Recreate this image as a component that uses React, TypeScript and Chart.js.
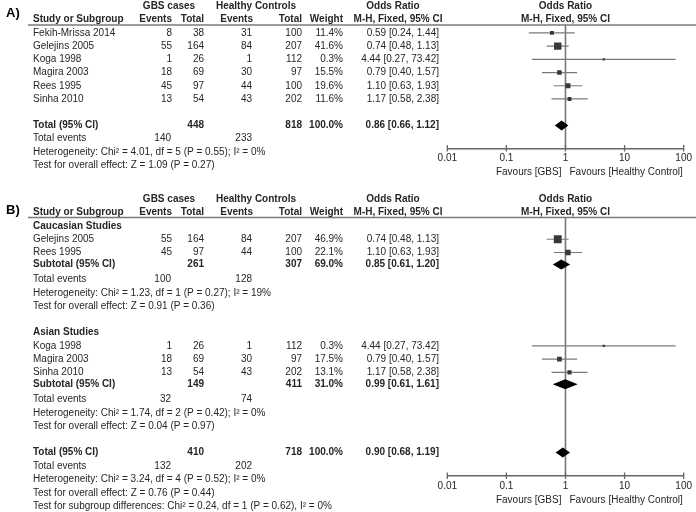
import React, { useEffect, useRef } from 'react';
import { Chart, registerables } from 'chart.js';

Chart.register(...registerables);

// ---------------- Shared labels ----------------
const TICK_VALUES = [0.01, 0.1, 1, 10, 100];
const TICK_LABELS = ['0.01', '0.1', '1', '10', '100'];
const NULL_VALUE = 1;
const FAVOURS_LEFT = 'Favours [GBS]';
const FAVOURS_RIGHT = 'Favours [Healthy Control]';
const HEADER_TOP = ['GBS cases', 'Healthy Controls', 'Odds Ratio', 'Odds Ratio'];
const HEADER_SUB = ['Study or Subgroup', 'Events', 'Total', 'Events', 'Total', 'Weight', 'M-H, Fixed, 95% CI', 'M-H, Fixed, 95% CI'];

// ---------------- Panel A data ----------------
const STUDIES_A = ['Fekih-Mrissa 2014', 'Gelejins 2005', 'Koga 1998', 'Magira 2003', 'Rees 1995', 'Sinha 2010'];
const GBS_EVENTS_A = [8, 55, 1, 18, 45, 13];
const GBS_TOTAL_A = [38, 164, 26, 69, 97, 54];
const HC_EVENTS_A = [31, 84, 1, 30, 44, 43];
const HC_TOTAL_A = [100, 207, 112, 97, 100, 202];
const WEIGHT_A = [11.4, 41.6, 0.3, 15.5, 19.6, 11.6];
const OR_A = [0.59, 0.74, 4.44, 0.79, 1.10, 1.17];
const OR_LOW_A = [0.24, 0.48, 0.27, 0.40, 0.63, 0.58];
const OR_HIGH_A = [1.44, 1.13, 73.42, 1.57, 1.93, 2.38];
const TOTAL_COUNTS_A = [448, 818]; // GBS total, HC total
const TOTAL_WEIGHT_A = 100.0;
const TOTAL_OR_A = [0.86, 0.66, 1.12]; // OR, low, high
const TOTAL_EVENTS_A = [140, 233];
const HET_A = 'Heterogeneity: Chi\u00B2 = 4.01, df = 5 (P = 0.55); I\u00B2 = 0%';
const TEST_A = 'Test for overall effect: Z = 1.09 (P = 0.27)';

// ---------------- Panel B data ----------------
const GROUPS_B = ['Caucasian Studies', 'Asian Studies'];
const STUDIES_B = [['Gelejins 2005', 'Rees 1995'], ['Koga 1998', 'Magira 2003', 'Sinha 2010']];
const GBS_EVENTS_B = [[55, 45], [1, 18, 13]];
const GBS_TOTAL_B = [[164, 97], [26, 69, 54]];
const HC_EVENTS_B = [[84, 44], [1, 30, 43]];
const HC_TOTAL_B = [[207, 100], [112, 97, 202]];
const WEIGHT_B = [[46.9, 22.1], [0.3, 17.5, 13.1]];
const OR_B = [[0.74, 1.10], [4.44, 0.79, 1.17]];
const OR_LOW_B = [[0.48, 0.63], [0.27, 0.40, 0.58]];
const OR_HIGH_B = [[1.13, 1.93], [73.42, 1.57, 2.38]];
const SUB_GBS_TOTAL_B = [261, 149];
const SUB_HC_TOTAL_B = [307, 411];
const SUB_WEIGHT_B = [69.0, 31.0];
const SUB_OR_B = [0.85, 0.99];
const SUB_LOW_B = [0.61, 0.61];
const SUB_HIGH_B = [1.20, 1.61];
const SUB_GBS_EVENTS_B = [100, 32];
const SUB_HC_EVENTS_B = [128, 74];
const SUB_HET_B = [
  'Heterogeneity: Chi\u00B2 = 1.23, df = 1 (P = 0.27); I\u00B2 = 19%',
  'Heterogeneity: Chi\u00B2 = 1.74, df = 2 (P = 0.42); I\u00B2 = 0%',
];
const SUB_TEST_B = ['Test for overall effect: Z = 0.91 (P = 0.36)', 'Test for overall effect: Z = 0.04 (P = 0.97)'];
const TOTAL_COUNTS_B = [410, 718];
const TOTAL_WEIGHT_B = 100.0;
const TOTAL_OR_B = [0.90, 0.68, 1.19];
const TOTAL_EVENTS_B = [132, 202];
const HET_B = 'Heterogeneity: Chi\u00B2 = 3.24, df = 4 (P = 0.52); I\u00B2 = 0%';
const TEST_B = 'Test for overall effect: Z = 0.76 (P = 0.44)';
const SUBGROUP_TEST_B = 'Test for subgroup differences: Chi\u00B2 = 0.24, df = 1 (P = 0.62), I\u00B2 = 0%';

// ---------------- Layout / style ----------------
const W = 696;
const FONT = '"Liberation Sans", Arial, Helvetica, sans-serif';
const TEXT_COLOR = '#262626';
const LINE_COLOR = '#7a7a7a';
const COL = { name: 33, gbsEv: 172, gbsTot: 204, hcEv: 252, hcTot: 302, weight: 343, ci: 439, totEvG: 171 };
const HX = { gbs: 169, hc: 256, orTop: 393, orSub: 398 };
const PLOT_LEFT = 447.3;
const PLOT_RIGHT_PAD = 10.3;
const AXIS_H = 30;
const DIAMOND_HALF = 5;

type Cell = { text: string; x?: number; xv?: number; align: CanvasTextAlign; bold?: boolean; size?: number };
type TextRow = { row: number; cells: Cell[] };
type Mark = { row: number; or: number; lo: number; hi: number; weight?: number };
type Panel = {
  id: string; label: string; labelRow: number; rows: TextRow[]; studies: Mark[]; diamonds: Mark[];
  yMin: number; yMax: number; height: number; top: number; padTop: number; padBottom: number;
};

const fmtCI = (or: number, lo: number, hi: number) => `${or.toFixed(2)} [${lo.toFixed(2)}, ${hi.toFixed(2)}]`;
const fmtW = (w: number) => `${w.toFixed(1)}%`;

function headerRows(r1: number, r2: number): TextRow[] {
  return [
    { row: r1, cells: [
      { text: HEADER_TOP[0], x: HX.gbs, align: 'center', bold: true },
      { text: HEADER_TOP[1], x: HX.hc, align: 'center', bold: true },
      { text: HEADER_TOP[2], x: HX.orTop, align: 'center', bold: true },
      { text: HEADER_TOP[3], xv: NULL_VALUE, align: 'center', bold: true },
    ] },
    { row: r2, cells: [
      { text: HEADER_SUB[0], x: COL.name, align: 'left', bold: true },
      { text: HEADER_SUB[1], x: COL.gbsEv, align: 'right', bold: true },
      { text: HEADER_SUB[2], x: COL.gbsTot, align: 'right', bold: true },
      { text: HEADER_SUB[3], x: COL.hcEv + 1, align: 'right', bold: true },
      { text: HEADER_SUB[4], x: COL.hcTot, align: 'right', bold: true },
      { text: HEADER_SUB[5], x: COL.weight, align: 'right', bold: true },
      { text: HEADER_SUB[6], x: HX.orSub, align: 'center', bold: true },
      { text: HEADER_SUB[7], xv: NULL_VALUE, align: 'center', bold: true },
    ] },
  ];
}

function studyRow(row: number, name: string, ge: number, gt: number, he: number, ht: number, w: number, or: number, lo: number, hi: number): TextRow {
  return { row, cells: [
    { text: name, x: COL.name, align: 'left' },
    { text: String(ge), x: COL.gbsEv, align: 'right' },
    { text: String(gt), x: COL.gbsTot, align: 'right' },
    { text: String(he), x: COL.hcEv, align: 'right' },
    { text: String(ht), x: COL.hcTot, align: 'right' },
    { text: fmtW(w), x: COL.weight, align: 'right' },
    { text: fmtCI(or, lo, hi), x: COL.ci, align: 'right' },
  ] };
}

function totalRow(row: number, name: string, gt: number, ht: number, w: number, or: number, lo: number, hi: number): TextRow {
  return { row, cells: [
    { text: name, x: COL.name, align: 'left', bold: true },
    { text: String(gt), x: COL.gbsTot, align: 'right', bold: true },
    { text: String(ht), x: COL.hcTot, align: 'right', bold: true },
    { text: fmtW(w), x: COL.weight, align: 'right', bold: true },
    { text: fmtCI(or, lo, hi), x: COL.ci, align: 'right', bold: true },
  ] };
}

function eventsRow(row: number, ge: number, he: number): TextRow {
  return { row, cells: [
    { text: 'Total events', x: COL.name, align: 'left' },
    { text: String(ge), x: COL.totEvG, align: 'right' },
    { text: String(he), x: COL.hcEv, align: 'right' },
  ] };
}

const noteRow = (row: number, text: string, bold = false): TextRow => ({ row, cells: [{ text, x: COL.name, align: 'left', bold }] });

function buildPanelA(): Panel {
  const rows: TextRow[] = headerRows(-2.05, -1.06);
  const studies: Mark[] = [];
  STUDIES_A.forEach((name, i) => {
    rows.push(studyRow(i, name, GBS_EVENTS_A[i], GBS_TOTAL_A[i], HC_EVENTS_A[i], HC_TOTAL_A[i], WEIGHT_A[i], OR_A[i], OR_LOW_A[i], OR_HIGH_A[i]));
    studies.push({ row: i, or: OR_A[i], lo: OR_LOW_A[i], hi: OR_HIGH_A[i], weight: WEIGHT_A[i] });
  });
  const t = STUDIES_A.length + 1;
  rows.push(totalRow(t, 'Total (95% CI)', TOTAL_COUNTS_A[0], TOTAL_COUNTS_A[1], TOTAL_WEIGHT_A, TOTAL_OR_A[0], TOTAL_OR_A[1], TOTAL_OR_A[2]));
  rows.push(eventsRow(t + 1, TOTAL_EVENTS_A[0], TOTAL_EVENTS_A[1]));
  rows.push(noteRow(t + 2, HET_A));
  rows.push(noteRow(t + 3, TEST_A));
  return {
    id: 'A', label: 'A)', labelRow: -1.5, rows, studies,
    diamonds: [{ row: t, or: TOTAL_OR_A[0], lo: TOTAL_OR_A[1], hi: TOTAL_OR_A[2] }],
    yMin: -0.6, yMax: 8.75, height: 182, top: 0, padTop: 25, padBottom: 182 - 148.5 - AXIS_H,
  };
}

function buildPanelB(): Panel {
  const rows: TextRow[] = headerRows(-2.04, -1.06);
  const studies: Mark[] = [];
  const diamonds: Mark[] = [];
  let start = 0;
  GROUPS_B.forEach((g, gi) => {
    rows.push(noteRow(start, g, true));
    STUDIES_B[gi].forEach((name, i) => {
      const r = start + 1 + i;
      rows.push(studyRow(r, name, GBS_EVENTS_B[gi][i], GBS_TOTAL_B[gi][i], HC_EVENTS_B[gi][i], HC_TOTAL_B[gi][i], WEIGHT_B[gi][i], OR_B[gi][i], OR_LOW_B[gi][i], OR_HIGH_B[gi][i]));
      studies.push({ row: r, or: OR_B[gi][i], lo: OR_LOW_B[gi][i], hi: OR_HIGH_B[gi][i], weight: WEIGHT_B[gi][i] });
    });
    const sub = start + STUDIES_B[gi].length + 0.9;
    rows.push(totalRow(sub, 'Subtotal (95% CI)', SUB_GBS_TOTAL_B[gi], SUB_HC_TOTAL_B[gi], SUB_WEIGHT_B[gi], SUB_OR_B[gi], SUB_LOW_B[gi], SUB_HIGH_B[gi]));
    diamonds.push({ row: sub, or: SUB_OR_B[gi], lo: SUB_LOW_B[gi], hi: SUB_HIGH_B[gi] });
    rows.push(eventsRow(sub + 1.15, SUB_GBS_EVENTS_B[gi], SUB_HC_EVENTS_B[gi]));
    rows.push(noteRow(sub + 2.15, SUB_HET_B[gi]));
    rows.push(noteRow(sub + 3.15, SUB_TEST_B[gi]));
    start = sub + 5.15;
  });
  const t = start;
  rows.push(totalRow(t, 'Total (95% CI)', TOTAL_COUNTS_B[0], TOTAL_COUNTS_B[1], TOTAL_WEIGHT_B, TOTAL_OR_B[0], TOTAL_OR_B[1], TOTAL_OR_B[2]));
  diamonds.push({ row: t, or: TOTAL_OR_B[0], lo: TOTAL_OR_B[1], hi: TOTAL_OR_B[2] });
  rows.push(eventsRow(t + 1.05, TOTAL_EVENTS_B[0], TOTAL_EVENTS_B[1]));
  rows.push(noteRow(t + 2.05, HET_B));
  rows.push(noteRow(t + 3.05, TEST_B));
  rows.push(noteRow(t + 4.05, SUBGROUP_TEST_B));
  return {
    id: 'B', label: 'B)', labelRow: -1.2, rows, studies, diamonds,
    yMin: -0.64, yMax: 18.87, height: 330, top: 182, padTop: 35.5, padBottom: 330 - 294 - AXIS_H,
  };
}

const PANEL_A = buildPanelA();
const PANEL_B = buildPanelB();

const squareSide = (w: number) => Math.max(2.2, 1.15 * Math.sqrt(w));

function drawText(ctx: CanvasRenderingContext2D, text: string, x: number, y: number, align: CanvasTextAlign, bold?: boolean, size = 10) {
  ctx.font = `${bold ? 'bold ' : ''}${size}px ${FONT}`;
  ctx.textAlign = align;
  ctx.textBaseline = 'middle';
  ctx.fillStyle = TEXT_COLOR;
  ctx.fillText(text, x, y);
}

function forestPlugin(panel: Panel) {
  return {
    id: 'forest' + panel.id,
    afterDatasetsDraw(chart: any) {
      const { ctx } = chart;
      const xs = chart.scales.x;
      const ys = chart.scales.y;
      ctx.save();
      ctx.fillStyle = '#000';
      panel.diamonds.forEach((d) => {
        const y = ys.getPixelForValue(d.row);
        const xl = xs.getPixelForValue(d.lo);
        const xm = xs.getPixelForValue(d.or);
        const xh = xs.getPixelForValue(d.hi);
        ctx.beginPath();
        ctx.moveTo(xl, y);
        ctx.lineTo(xm, y - DIAMOND_HALF);
        ctx.lineTo(xh, y);
        ctx.lineTo(xm, y + DIAMOND_HALF);
        ctx.closePath();
        ctx.fill();
      });
      ctx.restore();
    },
    afterDraw(chart: any) {
      const { ctx, chartArea } = chart;
      const xs = chart.scales.x;
      const ys = chart.scales.y;
      ctx.save();
      // header rule
      ctx.strokeStyle = LINE_COLOR;
      ctx.lineWidth = 1.6;
      ctx.beginPath();
      ctx.moveTo(28, chartArea.top);
      ctx.lineTo(W, chartArea.top);
      ctx.stroke();
      // axis tick marks (crossing the axis line)
      ctx.lineWidth = 1.3;
      ctx.strokeStyle = '#666';
      TICK_VALUES.forEach((v) => {
        const x = xs.getPixelForValue(v);
        ctx.beginPath();
        ctx.moveTo(x, chartArea.bottom - 3.5);
        ctx.lineTo(x, chartArea.bottom + 3);
        ctx.stroke();
      });
      // favours labels
      const x1 = xs.getPixelForValue(NULL_VALUE);
      const fy = chartArea.bottom + 24;
      drawText(ctx, FAVOURS_LEFT, x1 - 4, fy, 'right');
      drawText(ctx, FAVOURS_RIGHT, x1 + 4, fy, 'left');
      // table text
      panel.rows.forEach((r) => {
        const y = ys.getPixelForValue(r.row);
        r.cells.forEach((c) => {
          const x = c.xv !== undefined ? xs.getPixelForValue(c.xv) : (c.x as number);
          drawText(ctx, c.text, x, y, c.align, c.bold, c.size);
        });
      });
      // panel label
      ctx.font = `bold 13px ${FONT}`;
      ctx.textAlign = 'left';
      ctx.textBaseline = 'middle';
      ctx.fillStyle = '#000';
      ctx.fillText(panel.label, 6, ys.getPixelForValue(panel.labelRow));
      ctx.restore();
    },
  };
}

function makeChart(canvas: HTMLCanvasElement, panel: Panel) {
  const datasets: any[] = [];
  datasets.push({
    type: 'line', showLine: true,
    data: [{ x: NULL_VALUE, y: panel.yMin }, { x: NULL_VALUE, y: panel.yMax }],
    borderColor: '#777', borderWidth: 1.6, pointRadius: 0, order: 3,
  });
  panel.studies.forEach((s) => {
    datasets.push({
      type: 'line', showLine: true,
      data: [{ x: s.lo, y: s.row }, { x: s.hi, y: s.row }],
      borderColor: LINE_COLOR, borderWidth: 1.2, pointRadius: 0, order: 2,
    });
  });
  datasets.push({
    type: 'scatter',
    data: panel.studies.map((s) => ({ x: s.or, y: s.row })),
    pointStyle: 'rect',
    pointRadius: panel.studies.map((s) => squareSide(s.weight || 0) / Math.SQRT2),
    backgroundColor: '#383838', borderWidth: 0, order: 1,
  });
  return new Chart(canvas, {
    type: 'scatter',
    data: { datasets },
    options: {
      animation: false,
      responsive: false,
      events: [],
      layout: { padding: { left: PLOT_LEFT, right: PLOT_RIGHT_PAD, top: panel.padTop, bottom: panel.padBottom } },
      plugins: { legend: { display: false }, tooltip: { enabled: false } },
      scales: {
        x: {
          type: 'logarithmic', min: TICK_VALUES[0], max: TICK_VALUES[TICK_VALUES.length - 1],
          afterBuildTicks: (scale: any) => { scale.ticks = TICK_VALUES.map((v) => ({ value: v })); },
          afterFit: (scale: any) => { scale.height = AXIS_H; },
          grid: { display: false, drawTicks: false },
          border: { display: true, color: '#666', width: 1.5 },
          ticks: {
            autoSkip: false, maxRotation: 0, padding: 4, color: TEXT_COLOR,
            font: { family: FONT, size: 10 },
            callback: (_v: any, i: number) => TICK_LABELS[i],
          },
        },
        y: { type: 'linear', display: false, reverse: true, min: panel.yMin, max: panel.yMax },
      },
    } as any,
    plugins: [forestPlugin(panel)],
  });
}

function PanelChart({ panel }: { panel: Panel }) {
  const ref = useRef<HTMLCanvasElement | null>(null);
  useEffect(() => {
    if (!ref.current) return;
    const chart = makeChart(ref.current, panel);
    return () => chart.destroy();
  }, [panel]);
  return (
    <canvas
      ref={ref}
      width={W}
      height={panel.height}
      style={{ position: 'absolute', left: 0, top: panel.top, width: W, height: panel.height }}
    />
  );
}

export default function App() {
  return (
    <div style={{ position: 'fixed', left: 0, top: 0, width: W, height: 512, background: '#fff', overflow: 'hidden' }}>
      <PanelChart panel={PANEL_A} />
      <PanelChart panel={PANEL_B} />
    </div>
  );
}
